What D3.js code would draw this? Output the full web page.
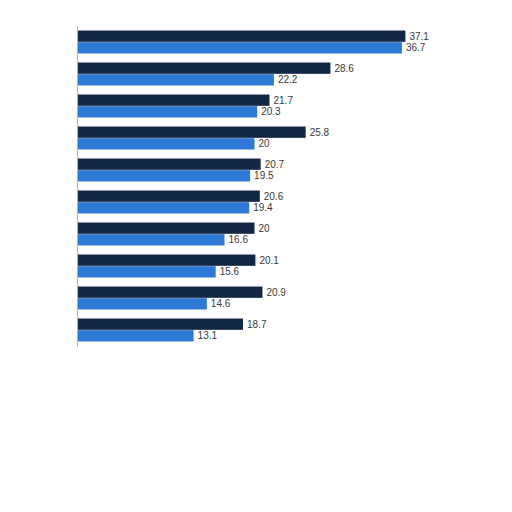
<!DOCTYPE html>
<html>
<head>
<meta charset="utf-8">
<script src="https://cdn.jsdelivr.net/npm/d3@7"></script>
<style>
  body { margin: 0; background: #fff; }
  svg { display: block; }
</style>
</head>
<body>
<div id="chart"></div>
<script>
// categories have no visible names in the picture, so just keep indices
const categories = ["1", "2", "3", "4", "5", "6", "7", "8", "9", "10"];
const seriesNames = ["first", "second"];
const firstValues = [37.1, 28.6, 21.7, 25.8, 20.7, 20.6, 20, 20.1, 20.9, 18.7];
const secondValues = [36.7, 22.2, 20.3, 20, 19.5, 19.4, 16.6, 15.6, 14.6, 13.1];
const seriesColors = ["#122845", "#2e78d8"];

const width = 512, height = 512;
const margin = { top: 26, left: 77 };

const svg = d3.select("#chart").append("svg")
  .attr("width", width)
  .attr("height", height);

const g = svg.append("g")
  .attr("transform", `translate(${margin.left},${margin.top})`);

// x: value -> pixels (about 8.85px per unit)
const x = d3.scaleLinear()
  .domain([0, 40])
  .range([0, 353]);

// y: one band per group
const y = d3.scaleBand()
  .domain(categories)
  .range([0, 320])
  .paddingInner(0.26)
  .paddingOuter(0.13);

// inner band for the two bars of a group
const ySub = d3.scaleBand()
  .domain(seriesNames)
  .range([0, y.bandwidth()])
  .padding(0.03);

const rows = categories.map((c, i) => ({
  cat: c,
  vals: [
    { key: seriesNames[0], v: firstValues[i] },
    { key: seriesNames[1], v: secondValues[i] }
  ]
}));

const groups = g.selectAll("g.grp")
  .data(rows)
  .enter()
  .append("g")
  .attr("class", "grp")
  .attr("transform", d => `translate(0,${y(d.cat)})`);

groups.selectAll("rect")
  .data(d => d.vals)
  .enter()
  .append("rect")
  .attr("x", 1)
  .attr("y", d => ySub(d.key))
  .attr("width", d => x(d.v))
  .attr("height", ySub.bandwidth())
  .style("fill", (d, i) => seriesColors[i]);

//value labels at the bar ends
groups.selectAll("text")
  .data(d => d.vals)
  .enter()
  .append("text")
  .attr("x", d => x(d.v) + 5)
  .attr("y", d => ySub(d.key) + ySub.bandwidth() / 2)
  .attr("dy", "0.35em")
  .style("font-family", "Liberation Sans, Arial, sans-serif")
  .style("font-size", "10px")
  .style("fill", "#3a3a3a")
  .text(d => d.v);

// left axis line only
const axis = g.append("g")
  .call(d3.axisLeft(y).tickSize(0).tickFormat(""));
axis.select(".domain")
  .attr("stroke", "#b5b5b5")
  .attr("stroke-width", 1);
</script>
</body>
</html>
